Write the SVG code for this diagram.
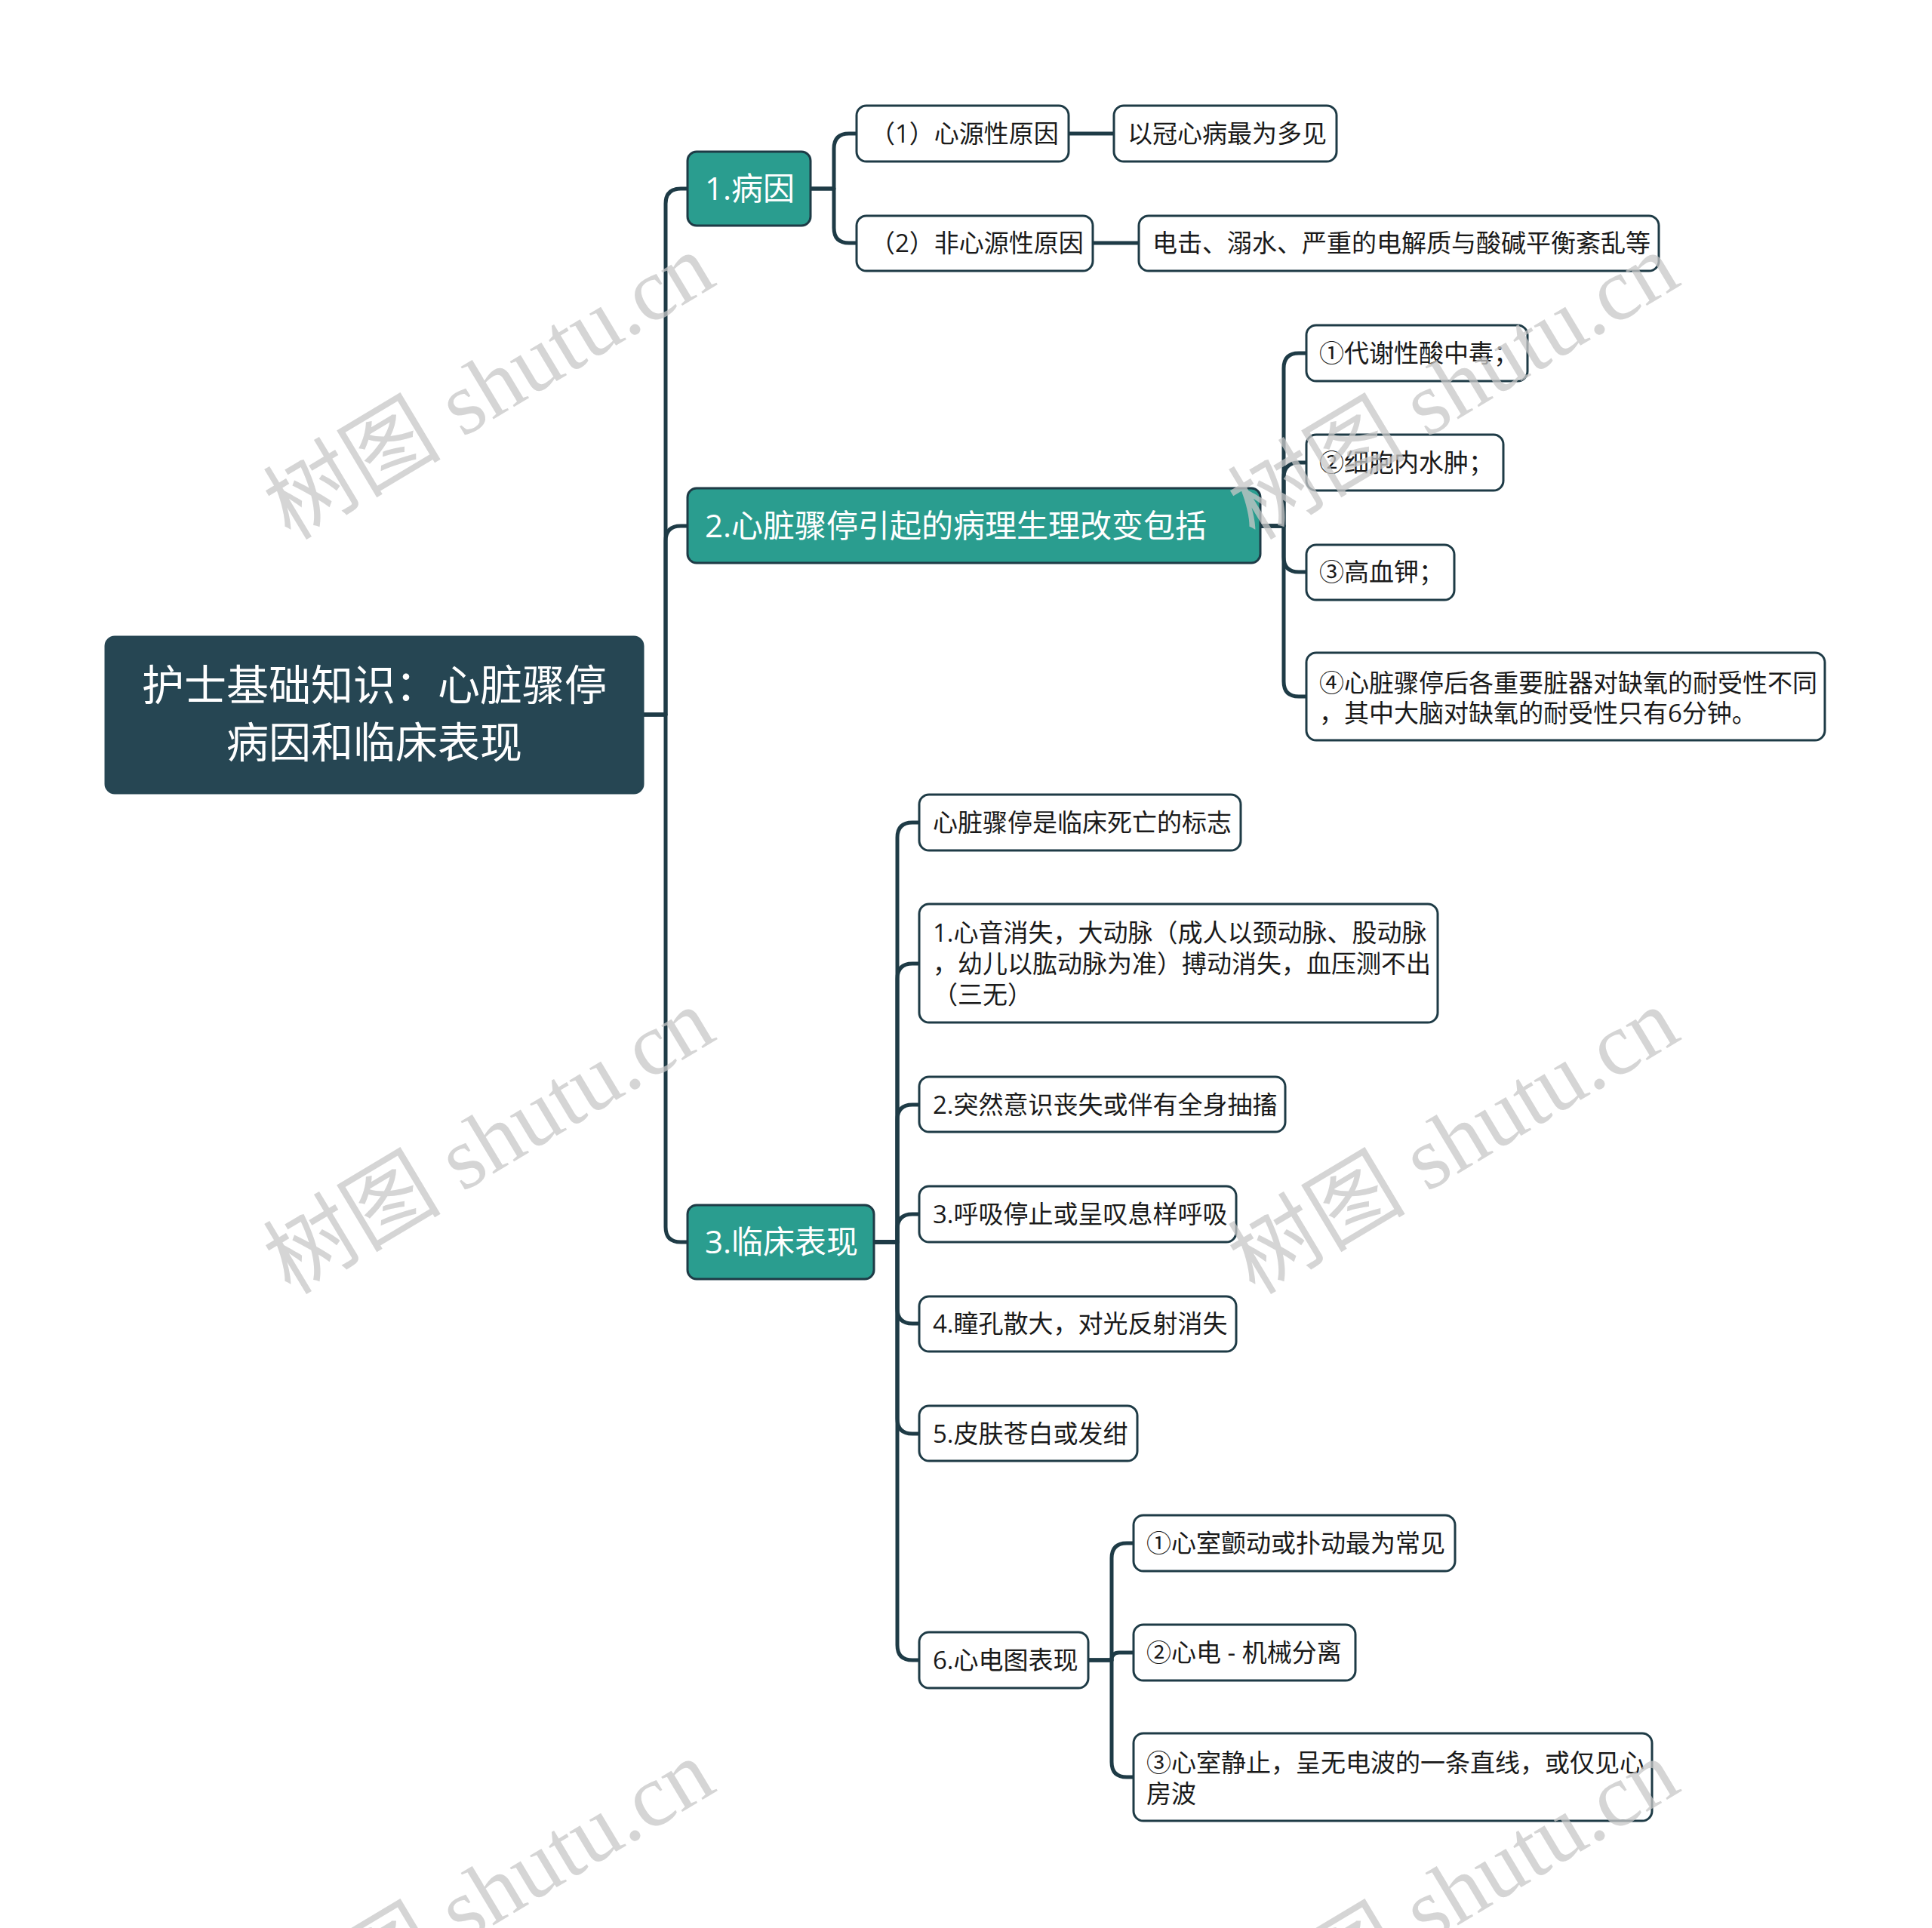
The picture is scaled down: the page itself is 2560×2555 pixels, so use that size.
<svg xmlns="http://www.w3.org/2000/svg" width="2560" height="2555" viewBox="0 0 2560 2555">
<style>
.bg{fill:#ffffff}
.conn{fill:none;stroke:#1e3b46;stroke-width:5;stroke-linejoin:round;stroke-linecap:round}
.root rect{fill:#264653;stroke:#264653;stroke-width:3}
.root text{fill:#ffffff;font-family:"Open Sans","Noto Sans CJK SC",sans-serif;font-size:56px;text-anchor:middle}
.l1 rect{fill:#2a9d8f;stroke:#1e3b46;stroke-width:3}
.l1 text{fill:#ffffff;font-family:"Open Sans","Noto Sans CJK SC",sans-serif;font-size:42px}
.l2 rect{fill:#ffffff;stroke:#1e3b46;stroke-width:3}
.l2 text{fill:#1a1a1a;font-family:"Open Sans","Noto Sans CJK SC",sans-serif;font-size:33px}
.wm{fill:#c8c8c8;opacity:0.75;font-family:"Liberation Serif","Noto Sans CJK SC",serif;font-size:118px;text-anchor:middle}
</style>
<rect class="bg" x="0" y="0" width="2560" height="2555"/>
<g id="connectors">
<path class="conn" d="M852,947 H882 V270 Q882,250 902,250 H911"/>
<path class="conn" d="M852,947 H882 V717 Q882,697 902,697 H911"/>
<path class="conn" d="M852,947 H882 V1626 Q882,1646 902,1646 H911"/>
<path class="conn" d="M1074,250 H1105 V197 Q1105,177 1125,177 H1135"/>
<path class="conn" d="M1074,250 H1105 V302 Q1105,322 1125,322 H1135"/>
<path class="conn" d="M1416,177 H1476"/>
<path class="conn" d="M1448,322 H1509"/>
<path class="conn" d="M1670,697 H1701 V488 Q1701,468 1721,468 H1731"/>
<path class="conn" d="M1670,697 H1701 V633 Q1701,613 1721,613 H1731"/>
<path class="conn" d="M1670,697 H1701 V738 Q1701,758 1721,758 H1731"/>
<path class="conn" d="M1670,697 H1701 V903 Q1701,923 1721,923 H1731"/>
<path class="conn" d="M1158,1646 H1189 V1110 Q1189,1090 1209,1090 H1218"/>
<path class="conn" d="M1158,1646 H1189 V1297 Q1189,1277 1209,1277 H1218"/>
<path class="conn" d="M1158,1646 H1189 V1484 Q1189,1464 1209,1464 H1218"/>
<path class="conn" d="M1158,1646 H1189 V1629 Q1189,1609 1209,1609 H1218"/>
<path class="conn" d="M1158,1646 H1189 V1734 Q1189,1754 1209,1754 H1218"/>
<path class="conn" d="M1158,1646 H1189 V1880 Q1189,1900 1209,1900 H1218"/>
<path class="conn" d="M1158,1646 H1189 V2180 Q1189,2200 1209,2200 H1218"/>
<path class="conn" d="M1442,2200 H1473 V2065 Q1473,2045 1493,2045 H1502"/>
<path class="conn" d="M1442,2200 H1473 V2200 Q1473,2190 1483,2190 H1502"/>
<path class="conn" d="M1442,2200 H1473 V2335 Q1473,2355 1493,2355 H1502"/>
</g>
<g id="root" class="root">
<rect x="140" y="844" width="712" height="207" rx="12"/>
<text x="496" y="928">护士基础知识：心脏骤停</text>
<text x="496" y="1004">病因和临床表现</text>
</g>
<g id="n1" class="l1">
<rect x="911" y="201" width="163" height="98" rx="12"/>
<text x="934" y="265">1.病因</text>
</g>
<g id="n2" class="l1">
<rect x="911" y="647" width="759" height="99" rx="12"/>
<text x="934" y="712">2.心脏骤停引起的病理生理改变包括</text>
</g>
<g id="n3" class="l1">
<rect x="911" y="1597" width="247" height="98" rx="12"/>
<text x="934" y="1661">3.临床表现</text>
</g>
<g id="n1a" class="l2">
<rect x="1135" y="140" width="281" height="74" rx="13"/>
<text x="1153" y="189">（1）心源性原因</text>
</g>
<g id="n1a1" class="l2">
<rect x="1476" y="140" width="295" height="74" rx="13"/>
<text x="1494" y="189">以冠心病最为多见</text>
</g>
<g id="n1b" class="l2">
<rect x="1135" y="286" width="313" height="73" rx="13"/>
<text x="1153" y="334">（2）非心源性原因</text>
</g>
<g id="n1b1" class="l2">
<rect x="1509" y="286" width="689" height="73" rx="13"/>
<text x="1527" y="334">电击、溺水、严重的电解质与酸碱平衡紊乱等</text>
</g>
<g id="n2a" class="l2">
<rect x="1731" y="431" width="293" height="74" rx="13"/>
<text x="1748" y="480">①代谢性酸中毒；</text>
</g>
<g id="n2b" class="l2">
<rect x="1731" y="576" width="261" height="74" rx="13"/>
<text x="1748" y="625">②细胞内水肿；</text>
</g>
<g id="n2c" class="l2">
<rect x="1731" y="722" width="196" height="73" rx="13"/>
<text x="1748" y="770">③高血钾；</text>
</g>
<g id="n2d" class="l2">
<rect x="1731" y="865" width="687" height="116" rx="13"/>
<text x="1748" y="917">④心脏骤停后各重要脏器对缺氧的耐受性不同</text>
<text x="1748" y="957">，其中大脑对缺氧的耐受性只有6分钟。</text>
</g>
<g id="n3a" class="l2">
<rect x="1218" y="1053" width="426" height="74" rx="13"/>
<text x="1236" y="1102">心脏骤停是临床死亡的标志</text>
</g>
<g id="n3b" class="l2">
<rect x="1218" y="1198" width="687" height="157" rx="13"/>
<text x="1236" y="1248">1.心音消失，大动脉（成人以颈动脉、股动脉</text>
<text x="1236" y="1289">，幼儿以肱动脉为准）搏动消失，血压测不出</text>
<text x="1236" y="1330">（三无）</text>
</g>
<g id="n3c" class="l2">
<rect x="1218" y="1427" width="485" height="73" rx="13"/>
<text x="1236" y="1476">2.突然意识丧失或伴有全身抽搐</text>
</g>
<g id="n3d" class="l2">
<rect x="1218" y="1572" width="420" height="74" rx="13"/>
<text x="1236" y="1621">3.呼吸停止或呈叹息样呼吸</text>
</g>
<g id="n3e" class="l2">
<rect x="1218" y="1718" width="420" height="73" rx="13"/>
<text x="1236" y="1766">4.瞳孔散大，对光反射消失</text>
</g>
<g id="n3f" class="l2">
<rect x="1218" y="1863" width="289" height="73" rx="13"/>
<text x="1236" y="1912">5.皮肤苍白或发绀</text>
</g>
<g id="n3g" class="l2">
<rect x="1218" y="2163" width="224" height="74" rx="13"/>
<text x="1236" y="2212">6.心电图表现</text>
</g>
<g id="n3g1" class="l2">
<rect x="1502" y="2008" width="426" height="74" rx="13"/>
<text x="1519" y="2057">①心室颤动或扑动最为常见</text>
</g>
<g id="n3g2" class="l2">
<rect x="1502" y="2153" width="294" height="74" rx="13"/>
<text x="1519" y="2202">②心电 - 机械分离</text>
</g>
<g id="n3g3" class="l2">
<rect x="1502" y="2297" width="687" height="116" rx="13"/>
<text x="1519" y="2348">③心室静止，呈无电波的一条直线，或仅见心</text>
<text x="1519" y="2389">房波</text>
</g>
<g id="watermarks">
<text class="wm" transform="translate(649,514) rotate(-31)" y="38">树图 shutu.cn</text>
<text class="wm" transform="translate(1927,514) rotate(-31)" y="38">树图 shutu.cn</text>
<text class="wm" transform="translate(649,1514) rotate(-31)" y="38">树图 shutu.cn</text>
<text class="wm" transform="translate(1927,1514) rotate(-31)" y="38">树图 shutu.cn</text>
<text class="wm" transform="translate(649,2510) rotate(-31)" y="38">树图 shutu.cn</text>
<text class="wm" transform="translate(1927,2510) rotate(-31)" y="38">树图 shutu.cn</text>
</g>
</svg>
